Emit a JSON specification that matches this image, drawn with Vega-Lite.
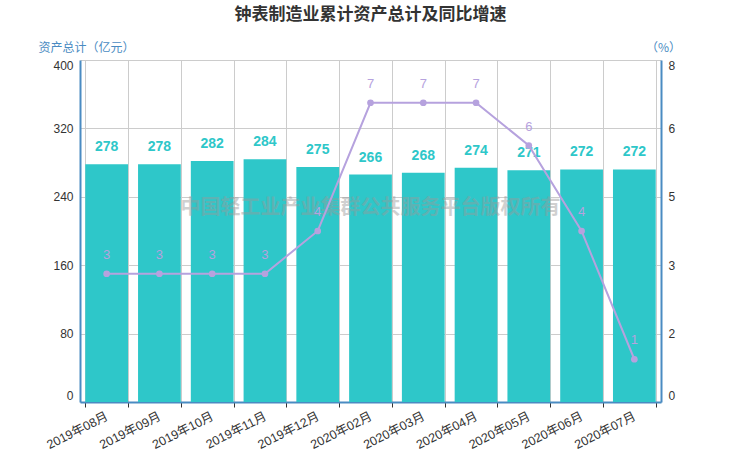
{
  "$schema": "https://vega.github.io/schema/vega-lite/v6.json",
  "autosize": {"type": "none"},
  "width": 581,
  "height": 342,
  "padding": {"left": 80, "top": 60, "right": 79, "bottom": 60},
  "background": "white",
  "title": {
    "text": "钟表制造业累计资产总计及同比增速",
    "font": "Noto Sans CJK SC",
    "fontSize": 17,
    "fontWeight": "bold",
    "color": "#333333",
    "anchor": "middle",
    "frame": "group",
    "offset": 17
  },
  "config": {
    "view": {"stroke": null},
    "font": "Liberation Sans",
    "axis": {
      "labelFont": "Liberation Sans, Noto Sans CJK SC",
      "labelFontSize": 12,
      "labelColor": "#333333",
      "titleFont": "Noto Sans CJK SC",
      "titleFontWeight": "normal",
      "titleFontSize": 12,
      "titleColor": "#4a8bc2",
      "gridColor": "#cccccc",
      "gridOpacity": 1
    }
  },
  "data": {
    "values": [
      {"month": "2019年08月", "assets": 278, "growth": 3},
      {"month": "2019年09月", "assets": 278, "growth": 3},
      {"month": "2019年10月", "assets": 282, "growth": 3},
      {"month": "2019年11月", "assets": 284, "growth": 3},
      {"month": "2019年12月", "assets": 275, "growth": 4},
      {"month": "2020年02月", "assets": 266, "growth": 7},
      {"month": "2020年03月", "assets": 268, "growth": 7},
      {"month": "2020年04月", "assets": 274, "growth": 7},
      {"month": "2020年05月", "assets": 271, "growth": 6},
      {"month": "2020年06月", "assets": 272, "growth": 4},
      {"month": "2020年07月", "assets": 272, "growth": 1}
    ]
  },
  "encoding": {
    "x": {
      "field": "month",
      "type": "ordinal",
      "sort": null,
      "scale": {"paddingInner": 0.19, "paddingOuter": 0.1},
      "axis": {
        "title": null,
        "labelAngle": -27,
        "labelAlign": "right",
        "labelBaseline": "middle",
        "labelPadding": 8,
        "labelFontSize": 12.5,
        "labelDx": 4,
        "tickBand": "extent",
        "grid": true,
        "ticks": true,
        "tickColor": "#333333",
        "tickSize": 5,
        "domainColor": "#4a8bc2",
        "domainWidth": 2
      }
    }
  },
  "layer": [
    {
      "layer": [
        {
          "mark": {"type": "bar", "color": "#2ec7c9"},
          "encoding": {
            "y": {
              "field": "assets",
              "type": "quantitative",
              "scale": {"domain": [0, 400], "nice": false},
              "axis": {
                "title": "资产总计（亿元）",
                "titleAngle": 0,
                "titleAlign": "center",
                "titleBaseline": "middle",
                "titleX": 6,
                "titleY": -13,
                "values": [0, 80, 160, 240, 320, 400],
                "ticks": false,
                "labelPadding": 7,
                "labelFlush": true,
                "grid": true,
                "domainColor": "#4a8bc2",
                "domainWidth": 2
              }
            }
          }
        },
        {
          "mark": {
            "type": "text",
            "color": "#2ec7c9",
            "fontSize": 14,
            "fontWeight": "bold",
            "font": "Liberation Sans",
            "baseline": "bottom",
            "dy": -10
          },
          "encoding": {
            "y": {"field": "assets", "type": "quantitative"},
            "text": {"field": "assets", "type": "quantitative"}
          }
        },
        {
          "data": {
            "values": [
              {"month": "2020年02月", "pos": 227, "mark_text": "中国轻工业产业集群公共服务平台版权所有"}
            ]
          },
          "mark": {
            "type": "text",
            "color": "#999999",
            "opacity": 0.45,
            "fontSize": 20,
            "fontWeight": "bold",
            "font": "Noto Sans CJK SC",
            "baseline": "middle"
          },
          "encoding": {
            "y": {"field": "pos", "type": "quantitative"},
            "text": {"field": "mark_text"}
          }
        }
      ]
    },
    {
      "layer": [
        {
          "mark": {
            "type": "line",
            "color": "#b6a2de",
            "strokeWidth": 2,
            "point": {"filled": true, "size": 45, "color": "#b6a2de"}
          },
          "encoding": {
            "y": {
              "field": "growth",
              "type": "quantitative",
              "scale": {"domain": [0, 8], "nice": false},
              "axis": {
                "orient": "right",
                "title": "（%）",
                "titleAngle": 0,
                "titleAlign": "center",
                "titleBaseline": "middle",
                "titleX": 2,
                "titleY": -13,
                "values": [0, 1.6, 3.2, 4.8, 6.4, 8],
                "format": ".0f",
                "ticks": false,
                "labelPadding": 7,
                "labelFlush": true,
                "grid": false,
                "domainColor": "#4a8bc2",
                "domainWidth": 2
              }
            }
          }
        },
        {
          "mark": {
            "type": "text",
            "color": "#b6a2de",
            "fontSize": 13,
            "font": "Liberation Sans",
            "baseline": "bottom",
            "dy": -12
          },
          "encoding": {
            "y": {"field": "growth", "type": "quantitative"},
            "text": {"field": "growth", "type": "quantitative"}
          }
        }
      ]
    }
  ],
  "resolve": {"scale": {"y": "independent"}}
}
